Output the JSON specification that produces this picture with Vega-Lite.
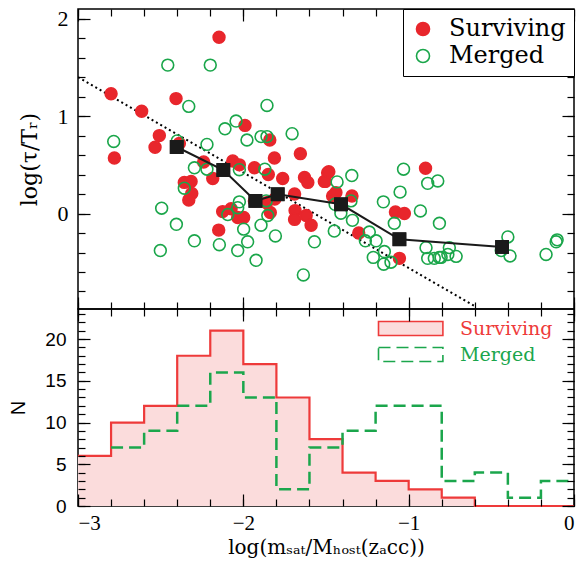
{
  "$schema": "https://vega.github.io/schema/vega-lite/v6.json",
  "padding": {"left": 8, "top": 6, "right": 14, "bottom": 4},
  "background": "white",
  "spacing": 0,
  "bounds": "flush",
  "resolve": {"scale": {"color": "independent", "stroke": "independent", "fill": "independent"}, "legend": {"color": "independent", "stroke": "independent", "fill": "independent"}},
  "config": {"view": {"stroke": "black", "strokeWidth": 1.5}, "axis": {"minExtent": 0, "maxExtent": 200, "tickOpacity": 1, "tickColor": "black", "tickWidth": 1.2}, "font": "DejaVu Serif"},
  "datasets": {
    "pts": [
      {"x": -2.147, "y": 1.81, "type": "Surviving"}, {"x": -2.8, "y": 1.23, "type": "Surviving"}, {"x": -2.615, "y": 1.05, "type": "Surviving"}, {"x": -2.407, "y": 1.18, "type": "Surviving"},
      {"x": -2.508, "y": 0.8, "type": "Surviving"}, {"x": -2.534, "y": 0.68, "type": "Surviving"}, {"x": -2.78, "y": 0.57, "type": "Surviving"}, {"x": -2.387, "y": 0.72, "type": "Surviving"},
      {"x": -1.99, "y": 0.905, "type": "Surviving"}, {"x": -1.84, "y": 0.755, "type": "Surviving"}, {"x": -1.812, "y": 0.57, "type": "Surviving"}, {"x": -2.24, "y": 0.53, "type": "Surviving"},
      {"x": -2.185, "y": 0.36, "type": "Surviving"}, {"x": -2.064, "y": 0.54, "type": "Surviving"}, {"x": -2.024, "y": 0.5, "type": "Surviving"}, {"x": -1.933, "y": 0.47, "type": "Surviving"},
      {"x": -1.849, "y": 0.4, "type": "Surviving"}, {"x": -1.762, "y": 0.36, "type": "Surviving"}, {"x": -1.655, "y": 0.615, "type": "Surviving"}, {"x": -1.63, "y": 0.37, "type": "Surviving"},
      {"x": -1.61, "y": 0.32, "type": "Surviving"}, {"x": -1.51, "y": 0.33, "type": "Surviving"}, {"x": -1.49, "y": 0.42, "type": "Surviving"}, {"x": -2.357, "y": 0.32, "type": "Surviving"},
      {"x": -2.316, "y": 0.33, "type": "Surviving"}, {"x": -2.312, "y": 0.205, "type": "Surviving"}, {"x": -2.33, "y": 0.14, "type": "Surviving"}, {"x": -2.125, "y": 0.02, "type": "Surviving"},
      {"x": -2.074, "y": 0.05, "type": "Surviving"}, {"x": -2.034, "y": -0.04, "type": "Surviving"}, {"x": -1.998, "y": -0.04, "type": "Surviving"}, {"x": -2.149, "y": -0.17, "type": "Surviving"},
      {"x": -1.933, "y": 0.13, "type": "Surviving"}, {"x": -1.81, "y": 0.15, "type": "Surviving"}, {"x": -1.69, "y": 0.2, "type": "Surviving"}, {"x": -1.687, "y": 0.03, "type": "Surviving"},
      {"x": -1.69, "y": -0.06, "type": "Surviving"}, {"x": -1.62, "y": -0.02, "type": "Surviving"}, {"x": -1.59, "y": -0.12, "type": "Surviving"}, {"x": -1.837, "y": 0.01, "type": "Surviving"},
      {"x": -1.86, "y": 0.11, "type": "Surviving"}, {"x": -1.46, "y": 0.18, "type": "Surviving"}, {"x": -1.44, "y": 0.215, "type": "Surviving"}, {"x": -1.343, "y": 0.18, "type": "Surviving"},
      {"x": -0.898, "y": 0.465, "type": "Surviving"}, {"x": -1.08, "y": 0.016, "type": "Surviving"}, {"x": -1.026, "y": 0.0, "type": "Surviving"}, {"x": -1.302, "y": -0.2, "type": "Surviving"},
      {"x": -1.056, "y": -0.46, "type": "Surviving"}, {"x": -1.504, "y": 0.33, "type": "Surviving"}, {"x": -1.483, "y": 0.43, "type": "Surviving"},
      {"x": -2.457, "y": 1.524, "type": "Merged"}, {"x": -2.2, "y": 1.524, "type": "Merged"}, {"x": -2.33, "y": 1.1, "type": "Merged"}, {"x": -1.857, "y": 1.11, "type": "Merged"},
      {"x": -2.044, "y": 0.95, "type": "Merged"}, {"x": -2.111, "y": 0.87, "type": "Merged"}, {"x": -2.784, "y": 0.74, "type": "Merged"}, {"x": -2.4, "y": 0.745, "type": "Merged"},
      {"x": -2.22, "y": 0.71, "type": "Merged"}, {"x": -1.978, "y": 0.755, "type": "Merged"}, {"x": -1.893, "y": 0.79, "type": "Merged"}, {"x": -1.857, "y": 0.79, "type": "Merged"},
      {"x": -1.705, "y": 0.82, "type": "Merged"}, {"x": -2.296, "y": 0.47, "type": "Merged"}, {"x": -2.22, "y": 0.455, "type": "Merged"}, {"x": -2.024, "y": 0.45, "type": "Merged"},
      {"x": -1.87, "y": 0.455, "type": "Merged"}, {"x": -2.357, "y": 0.26, "type": "Merged"}, {"x": -2.494, "y": 0.055, "type": "Merged"}, {"x": -2.405, "y": -0.11, "type": "Merged"},
      {"x": -2.296, "y": -0.28, "type": "Merged"}, {"x": -2.502, "y": -0.38, "type": "Merged"}, {"x": -2.145, "y": -0.32, "type": "Merged"}, {"x": -2.034, "y": -0.38, "type": "Merged"},
      {"x": -1.974, "y": -0.29, "type": "Merged"}, {"x": -1.998, "y": -0.16, "type": "Merged"}, {"x": -1.923, "y": -0.48, "type": "Merged"}, {"x": -2.094, "y": -0.01, "type": "Merged"},
      {"x": -2.034, "y": 0.06, "type": "Merged"}, {"x": -2.024, "y": 0.12, "type": "Merged"}, {"x": -1.893, "y": -0.12, "type": "Merged"}, {"x": -1.852, "y": -0.02, "type": "Merged"},
      {"x": -1.862, "y": 0.13, "type": "Merged"}, {"x": -1.806, "y": -0.23, "type": "Merged"}, {"x": -1.637, "y": -0.63, "type": "Merged"}, {"x": -1.57, "y": -0.29, "type": "Merged"},
      {"x": -1.45, "y": -0.18, "type": "Merged"}, {"x": -1.031, "y": 0.455, "type": "Merged"}, {"x": -1.344, "y": 0.39, "type": "Merged"}, {"x": -1.433, "y": 0.325, "type": "Merged"},
      {"x": -0.885, "y": 0.31, "type": "Merged"}, {"x": -0.824, "y": 0.335, "type": "Merged"}, {"x": -1.052, "y": 0.22, "type": "Merged"}, {"x": -1.153, "y": 0.12, "type": "Merged"},
      {"x": -0.929, "y": 0.027, "type": "Merged"}, {"x": -1.349, "y": 0.13, "type": "Merged"}, {"x": -1.445, "y": 0.095, "type": "Merged"}, {"x": -1.41, "y": 0.003, "type": "Merged"},
      {"x": -1.34, "y": -0.07, "type": "Merged"}, {"x": -1.238, "y": -0.19, "type": "Merged"}, {"x": -1.262, "y": -0.28, "type": "Merged"}, {"x": -1.197, "y": -0.28, "type": "Merged"},
      {"x": -1.087, "y": -0.1, "type": "Merged"}, {"x": -0.814, "y": -0.1, "type": "Merged"}, {"x": -1.147, "y": -0.39, "type": "Merged"}, {"x": -1.214, "y": -0.45, "type": "Merged"},
      {"x": -1.151, "y": -0.52, "type": "Merged"}, {"x": -1.107, "y": -0.5, "type": "Merged"}, {"x": -0.895, "y": -0.35, "type": "Merged"}, {"x": -0.885, "y": -0.46, "type": "Merged"},
      {"x": -0.845, "y": -0.46, "type": "Merged"}, {"x": -0.815, "y": -0.45, "type": "Merged"}, {"x": -0.754, "y": -0.35, "type": "Merged"}, {"x": -0.804, "y": -0.45, "type": "Merged"},
      {"x": -0.713, "y": -0.44, "type": "Merged"}, {"x": -0.763, "y": -0.42, "type": "Merged"}, {"x": -0.4, "y": -0.24, "type": "Merged"}, {"x": -0.387, "y": -0.435, "type": "Merged"},
      {"x": -0.44, "y": -0.38, "type": "Merged"}, {"x": -0.169, "y": -0.42, "type": "Merged"}, {"x": -0.102, "y": -0.27, "type": "Merged"}, {"x": -0.108, "y": -0.29, "type": "Merged"}
    ],
    "median": [
      {"x": -2.403, "y": 0.683}, {"x": -2.121, "y": 0.447}, {"x": -1.927, "y": 0.13}, {"x": -1.792, "y": 0.198},
      {"x": -1.409, "y": 0.095}, {"x": -1.056, "y": -0.264}, {"x": -0.435, "y": -0.343}
    ],
    "dotted": [{"x": -3, "y": 1.4}, {"x": -0.6, "y": -0.95}],
    "histS": [
      {"x": -3.0, "n": 6, "type": "Surviving"}, {"x": -2.8, "n": 10, "type": "Surviving"}, {"x": -2.6, "n": 12, "type": "Surviving"}, {"x": -2.4, "n": 18, "type": "Surviving"},
      {"x": -2.2, "n": 21, "type": "Surviving"}, {"x": -2.0, "n": 17, "type": "Surviving"}, {"x": -1.8, "n": 13, "type": "Surviving"}, {"x": -1.6, "n": 8, "type": "Surviving"},
      {"x": -1.4, "n": 4, "type": "Surviving"}, {"x": -1.2, "n": 3, "type": "Surviving"}, {"x": -1.0, "n": 2, "type": "Surviving"}, {"x": -0.8, "n": 1, "type": "Surviving"},
      {"x": -0.6, "n": 0, "type": "Surviving"}, {"x": 0.0, "n": 0, "type": "Surviving"}
    ],
    "histM": [
      {"x": -2.8, "n": 7, "type": "Merged"}, {"x": -2.6, "n": 9, "type": "Merged"}, {"x": -2.4, "n": 12, "type": "Merged"}, {"x": -2.2, "n": 16, "type": "Merged"},
      {"x": -2.0, "n": 13, "type": "Merged"}, {"x": -1.8, "n": 2, "type": "Merged"}, {"x": -1.6, "n": 7, "type": "Merged"}, {"x": -1.4, "n": 9, "type": "Merged"},
      {"x": -1.2, "n": 12, "type": "Merged"}, {"x": -1.0, "n": 12, "type": "Merged"}, {"x": -0.8, "n": 3, "type": "Merged"}, {"x": -0.6, "n": 4, "type": "Merged"},
      {"x": -0.4, "n": 1, "type": "Merged"}, {"x": -0.2, "n": 3, "type": "Merged"}, {"x": 0.0, "n": 3, "type": "Merged"}
    ]
  },
  "vconcat": [
    {
      "width": 496,
      "height": 300,
      "layer": [
        {
          "data": {"name": "dotted"},
          "mark": {"type": "line", "color": "black", "strokeWidth": 2, "strokeDash": [2, 3], "clip": true},
          "encoding": {
            "x": {"field": "x", "type": "quantitative", "scale": {"domain": [-3, 0], "nice": false, "zero": false},
              "axis": {"orient": "bottom", "zindex": 1, "values": [-3, -2.8, -2.6, -2.4, -2.2, -2, -1.8, -1.6, -1.4, -1.2, -1, -0.8, -0.6, -0.4, -0.2, 0], "labels": false, "domain": false, "grid": false, "title": null, "ticks": true, "tickColor": "black", "tickWidth": 1.2, "tickSize": -20, "tickDash": [7, 13]}},
            "y": {"field": "y", "type": "quantitative", "scale": {"domain": [-0.98, 2.1], "nice": false, "zero": false},
              "axis": {"orient": "left", "values": [0, 1, 2], "ticks": false, "domain": false, "grid": false, "labelFont": "Liberation Serif", "labelFontSize": 22, "labelColor": "black", "labelPadding": 10,
                "title": "log(τ/Tᵣ)", "titleFont": "DejaVu Serif", "titleFontSize": 22, "titleFontWeight": "normal", "titleColor": "black", "titlePadding": 16}}
          }
        },
        {
          "data": {"name": "pts"},
          "mark": {"type": "point", "filled": false, "strokeWidth": 1.6, "opacity": 1, "size": 140},
          "encoding": {
            "x": {"field": "x", "type": "quantitative", "scale": {"domain": [-3, 0], "nice": false, "zero": false},
              "axis": {"orient": "top", "zindex": 1, "values": [-3, -2.8, -2.6, -2.4, -2.2, -2, -1.8, -1.6, -1.4, -1.2, -1, -0.8, -0.6, -0.4, -0.2, 0], "labels": false, "domain": false, "grid": false, "title": null, "ticks": true, "tickColor": "black", "tickWidth": 1.2, "tickSize": -20, "tickDash": [7, 13]}},
            "y": {"field": "y", "type": "quantitative", "scale": {"domain": [-0.98, 2.1], "nice": false, "zero": false},
              "axis": {"orient": "left", "zindex": 1, "values": [-0.8, -0.6, -0.4, -0.2, 0, 0.2, 0.4, 0.6, 0.8, 1, 1.2, 1.4, 1.6, 1.8, 2], "labels": false, "domain": false, "grid": false, "title": null, "ticks": true, "tickColor": "black", "tickWidth": 1.2, "tickSize": -20, "tickDash": [7, 13]}},
            "color": {"field": "type", "type": "nominal", "scale": {"domain": ["Surviving", "Merged"], "range": ["#e8262c", "#1aa64a"]},
              "legend": {"title": null, "orient": "top-right", "offset": 0, "zindex": 2, "strokeColor": "black", "fillColor": "white", "padding": 8, "rowPadding": 3,
                "symbolType": "circle", "symbolSize": 170, "symbolStrokeWidth": 1.6, "labelFont": "DejaVu Serif", "labelFontSize": 24, "labelOffset": 14, "labelLimit": 300,
                "encode": {
                  "legend": {"update": {"strokeWidth": {"value": 1.5}}},
                  "labels": {"update": {"fill": {"signal": "datum.value === 'Surviving' ? '#e8262c' : '#1aa64a'"}}},
                  "symbols": {"update": {"fill": {"signal": "datum.value === 'Surviving' ? '#e8262c' : 'transparent'"}, "stroke": {"signal": "datum.value === 'Surviving' ? '#e8262c' : '#1aa64a'"}, "opacity": {"value": 1}}}
                }}},
            "fill": {"field": "type", "type": "nominal", "scale": {"domain": ["Surviving", "Merged"], "range": ["#e8262c", "transparent"]}, "legend": null}
          }
        },
        {
          "data": {"name": "median"},
          "mark": {"type": "line", "color": "#1a1a1a", "strokeWidth": 2},
          "encoding": {
            "x": {"field": "x", "type": "quantitative", "scale": {"domain": [-3, 0], "nice": false, "zero": false},
              "axis": {"orient": "bottom", "zindex": 1, "values": [-3, -2, -1, 0], "labels": false, "domain": false, "grid": false, "title": null, "ticks": true, "tickColor": "black", "tickWidth": 1.2, "tickSize": -20, "tickDash": [12, 8]}},
            "y": {"field": "y", "type": "quantitative", "scale": {"domain": [-0.98, 2.1], "nice": false, "zero": false},
              "axis": {"orient": "left", "zindex": 1, "values": [0, 1, 2], "labels": false, "domain": false, "grid": false, "title": null, "ticks": true, "tickColor": "black", "tickWidth": 1.2, "tickSize": -20, "tickDash": [12, 8]}}
          }
        },
        {
          "data": {"name": "median"},
          "mark": {"type": "square", "color": "#1a1a1a", "filled": true, "opacity": 1, "size": 190},
          "encoding": {
            "x": {"field": "x", "type": "quantitative", "scale": {"domain": [-3, 0], "nice": false, "zero": false},
              "axis": {"orient": "top", "zindex": 1, "values": [-3, -2, -1, 0], "labels": false, "domain": false, "grid": false, "title": null, "ticks": true, "tickColor": "black", "tickWidth": 1.2, "tickSize": -20, "tickDash": [12, 8]}},
            "y": {"field": "y", "type": "quantitative", "scale": {"domain": [-0.98, 2.1], "nice": false, "zero": false},
              "axis": {"orient": "right", "zindex": 1, "values": [-0.8, -0.6, -0.4, -0.2, 0, 0.2, 0.4, 0.6, 0.8, 1, 1.2, 1.4, 1.6, 1.8, 2], "labels": false, "domain": false, "grid": false, "title": null, "ticks": true, "tickColor": "black", "tickWidth": 1.2, "tickSize": -20, "tickDash": [7, 13]}}
          }
        },
        {
          "data": {"name": "median"},
          "mark": {"type": "square", "color": "#1a1a1a", "filled": true, "opacity": 1, "size": 190},
          "encoding": {
            "x": {"field": "x", "type": "quantitative", "scale": {"domain": [-3, 0], "nice": false, "zero": false}, "axis": null},
            "y": {"field": "y", "type": "quantitative", "scale": {"domain": [-0.98, 2.1], "nice": false, "zero": false},
              "axis": {"orient": "right", "zindex": 1, "values": [0, 1, 2], "labels": false, "domain": false, "grid": false, "title": null, "ticks": true, "tickColor": "black", "tickWidth": 1.2, "tickSize": -20, "tickDash": [12, 8]}}
          }
        }
      ],
      "resolve": {"axis": {"x": "independent", "y": "independent"}}
    },
    {
      "width": 496,
      "height": 197,
      "layer": [
        {
          "data": {"name": "histS"},
          "mark": {"type": "area", "interpolate": "step-after", "fill": "#fbdcdc", "opacity": 1},
          "encoding": {
            "x": {"field": "x", "type": "quantitative", "scale": {"domain": [-3, 0], "nice": false, "zero": false},
              "axis": {"orient": "bottom", "values": [-3, -2, -1, 0], "ticks": false, "domain": false, "grid": false, "labelFont": "Liberation Serif", "labelFontSize": 21, "labelColor": "black", "labelPadding": 6,
                "title": "log(mₛₐₜ/Mₕₒₛₜ(zₐcc))", "titleFont": "DejaVu Serif", "titleFontSize": 20, "titleFontWeight": "normal", "titleColor": "black", "titlePadding": 4}},
            "y": {"field": "n", "type": "quantitative", "scale": {"domain": [0, 23.6], "nice": false, "zero": false},
              "axis": {"orient": "left", "values": [0, 5, 10, 15, 20], "ticks": false, "domain": false, "grid": false, "labelFont": "Liberation Sans", "labelFontSize": 19, "labelColor": "black", "labelPadding": 12,
                "title": "N", "titleFont": "Liberation Sans", "titleFontSize": 20, "titleFontWeight": "normal", "titleColor": "black", "titlePadding": 16}}
          }
        },
        {
          "data": {"name": "histS"},
          "mark": {"type": "area", "interpolate": "step-after", "fill": "#fbdcdc", "opacity": 1},
          "encoding": {
            "x": {"field": "x", "type": "quantitative", "scale": {"domain": [-3, 0], "nice": false, "zero": false},
              "axis": {"orient": "bottom", "zindex": 1, "values": [-3, -2.8, -2.6, -2.4, -2.2, -2, -1.8, -1.6, -1.4, -1.2, -1, -0.8, -0.6, -0.4, -0.2, 0], "labels": false, "domain": false, "grid": false, "title": null, "ticks": true, "tickColor": "black", "tickWidth": 1.2, "tickSize": -20, "tickDash": [7, 13]}},
            "y": {"field": "n", "type": "quantitative", "scale": {"domain": [0, 23.6], "nice": false, "zero": false},
              "axis": {"orient": "left", "zindex": 1, "values": [0, 1, 2, 3, 4, 5, 6, 7, 8, 9, 10, 11, 12, 13, 14, 15, 16, 17, 18, 19, 20, 21, 22, 23], "labels": false, "domain": false, "grid": false, "title": null, "ticks": true, "tickColor": "black", "tickWidth": 1.2, "tickSize": -20, "tickDash": [7, 13]}}
          }
        },
        {
          "data": {"name": "histS"},
          "mark": {"type": "area", "interpolate": "step-after", "fill": "#fbdcdc", "opacity": 1},
          "encoding": {
            "x": {"field": "x", "type": "quantitative", "scale": {"domain": [-3, 0], "nice": false, "zero": false},
              "axis": {"orient": "bottom", "zindex": 1, "values": [-3, -2, -1, 0], "labels": false, "domain": false, "grid": false, "title": null, "ticks": true, "tickColor": "black", "tickWidth": 1.2, "tickSize": -20, "tickDash": [12, 8]}},
            "y": {"field": "n", "type": "quantitative", "scale": {"domain": [0, 23.6], "nice": false, "zero": false},
              "axis": {"orient": "left", "zindex": 1, "values": [0, 5, 10, 15, 20], "labels": false, "domain": false, "grid": false, "title": null, "ticks": true, "tickColor": "black", "tickWidth": 1.2, "tickSize": -20, "tickDash": [12, 8]}}
          }
        },
        {
          "data": {"name": "histS"},
          "mark": {"type": "line", "interpolate": "step-after", "strokeWidth": 2.2},
          "encoding": {
            "x": {"field": "x", "type": "quantitative", "scale": {"domain": [-3, 0], "nice": false, "zero": false},
              "axis": {"orient": "top", "zindex": 1, "values": [-3, -2.8, -2.6, -2.4, -2.2, -2, -1.8, -1.6, -1.4, -1.2, -1, -0.8, -0.6, -0.4, -0.2, 0], "labels": false, "domain": false, "grid": false, "title": null, "ticks": true, "tickColor": "black", "tickWidth": 1.2, "tickSize": -20, "tickDash": [7, 13]}},
            "y": {"field": "n", "type": "quantitative", "scale": {"domain": [0, 23.6], "nice": false, "zero": false},
              "axis": {"orient": "right", "zindex": 1, "values": [0, 1, 2, 3, 4, 5, 6, 7, 8, 9, 10, 11, 12, 13, 14, 15, 16, 17, 18, 19, 20, 21, 22, 23], "labels": false, "domain": false, "grid": false, "title": null, "ticks": true, "tickColor": "black", "tickWidth": 1.2, "tickSize": -20, "tickDash": [7, 13]}},
            "stroke": {"field": "type", "type": "nominal", "scale": {"domain": ["Surviving", "Merged"], "range": ["#ee3a3a", "#1ba64c"]},
              "legend": {"title": null, "orient": "none", "legendX": 298, "legendY": 10, "padding": 0, "rowPadding": 5,
                "symbolType": "M-1,-1H8.2V1H-1Z", "symbolSize": 196, "symbolStrokeWidth": 1.6, "labelFont": "DejaVu Serif", "labelFontSize": 19, "labelOffset": 65, "labelLimit": 300,
                "encode": {
                  "labels": {"update": {"fill": {"signal": "datum.value === 'Surviving' ? '#ee3a3a' : '#1ba64c'"}}},
                  "symbols": {"update": {"fill": {"signal": "datum.value === 'Surviving' ? '#fbdcdc' : 'transparent'"}, "stroke": {"signal": "datum.value === 'Surviving' ? '#ee3a3a' : '#1ba64c'"}, "strokeDash": {"signal": "datum.value === 'Surviving' ? [1, 0] : [12, 6]"}, "opacity": {"value": 1}}}
                }}}
          }
        },
        {
          "data": {"name": "histM"},
          "mark": {"type": "line", "interpolate": "step-after", "strokeWidth": 2.5, "strokeDash": [12, 6]},
          "encoding": {
            "x": {"field": "x", "type": "quantitative", "scale": {"domain": [-3, 0], "nice": false, "zero": false},
              "axis": {"orient": "top", "zindex": 1, "values": [-3, -2, -1, 0], "labels": false, "domain": false, "grid": false, "title": null, "ticks": true, "tickColor": "black", "tickWidth": 1.2, "tickSize": -20, "tickDash": [12, 8]}},
            "y": {"field": "n", "type": "quantitative", "scale": {"domain": [0, 23.6], "nice": false, "zero": false},
              "axis": {"orient": "right", "zindex": 1, "values": [0, 5, 10, 15, 20], "labels": false, "domain": false, "grid": false, "title": null, "ticks": true, "tickColor": "black", "tickWidth": 1.2, "tickSize": -20, "tickDash": [12, 8]}},
            "stroke": {"field": "type", "type": "nominal", "scale": {"domain": ["Surviving", "Merged"], "range": ["#ee3a3a", "#1ba64c"]}}
          }
        }
      ],
      "resolve": {"axis": {"x": "independent", "y": "independent"}}
    }
  ]
}
